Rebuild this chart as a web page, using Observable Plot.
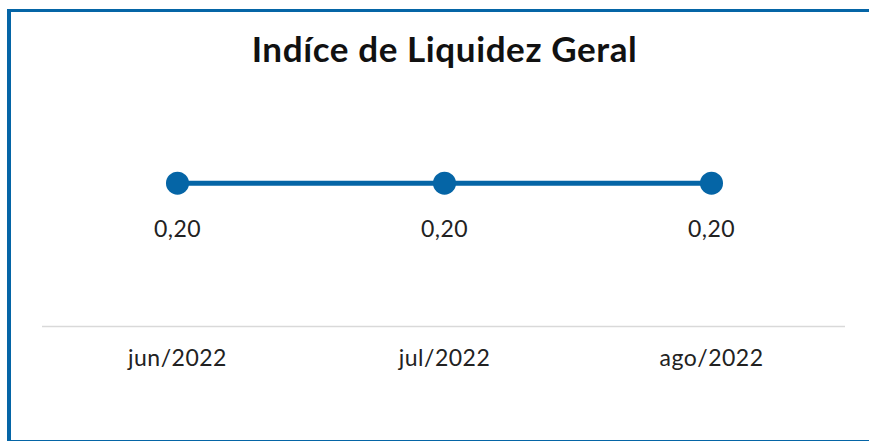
<!DOCTYPE html>
<html>
<head>
<meta charset="utf-8">
<script src="https://cdn.jsdelivr.net/npm/d3@7"></script>
<script src="https://cdn.jsdelivr.net/npm/@observablehq/plot@0.6"></script>
<style>
  html, body { margin: 0; padding: 0; background: #fff; width: 869px; height: 442px; overflow: hidden; }
  #frame { position: absolute; left: 7px; top: 9px; width: 870px; height: 428px;
           border-left: 4px solid #0565a6; border-top: 3px solid #0565a6; border-bottom: 1px solid #0565a6; }
  #title { position: absolute; left: 0; top: 27px; width: 889px; text-align: center; letter-spacing: 0.6px;
           font-family: Lato, "Open Sans", sans-serif; font-weight: 700; font-size: 35px; color: #111; }
  #chart { position: absolute; left: 0; top: 0; }
</style>
</head>
<body>
<div id="frame"></div>
<div id="title">Indíce de Liquidez Geral</div>
<div id="chart"></div>
<script>
const title = "Indíce de Liquidez Geral";
const months = ["jun/2022", "jul/2022", "ago/2022"];
const values = [0.20, 0.20, 0.20];

const data = months.map((m, i) => ({month: m, value: values[i]}));
const fmt = v => d3.format(".2f")(v).replace(".", ",");
const blue = "#0565a6";

const chart = Plot.plot({
  width: 869,
  height: 442,
  marginLeft: 42,
  marginRight: 24,
  marginTop: 111,
  marginBottom: 116,
  style: {fontFamily: "Lato, 'Open Sans', sans-serif", background: "transparent", overflow: "visible", letterSpacing: "0.5px"},
  x: {type: "point", domain: months, padding: 0.5, label: null, tickSize: 0, tickPadding: 22},
  y: {domain: [0, 0.3], axis: null},
  marks: [
    Plot.ruleY([0], {stroke: "#d9d9d9", strokeWidth: 1.5}),
    Plot.line(data, {x: "month", y: "value", stroke: blue, strokeWidth: 5}),
    Plot.dot(data, {x: "month", y: "value", r: 11.5, fill: blue, stroke: "none"}),
    Plot.text(data, {x: "month", y: "value", text: d => fmt(d.value), dy: 46, fontSize: 23, fill: "#222"}),
    Plot.axisX({tickSize: 0, tickPadding: 23, fontSize: 23, fill: "#222", label: null})
  ]
});
document.getElementById("chart").appendChild(chart);
</script>
</body>
</html>
